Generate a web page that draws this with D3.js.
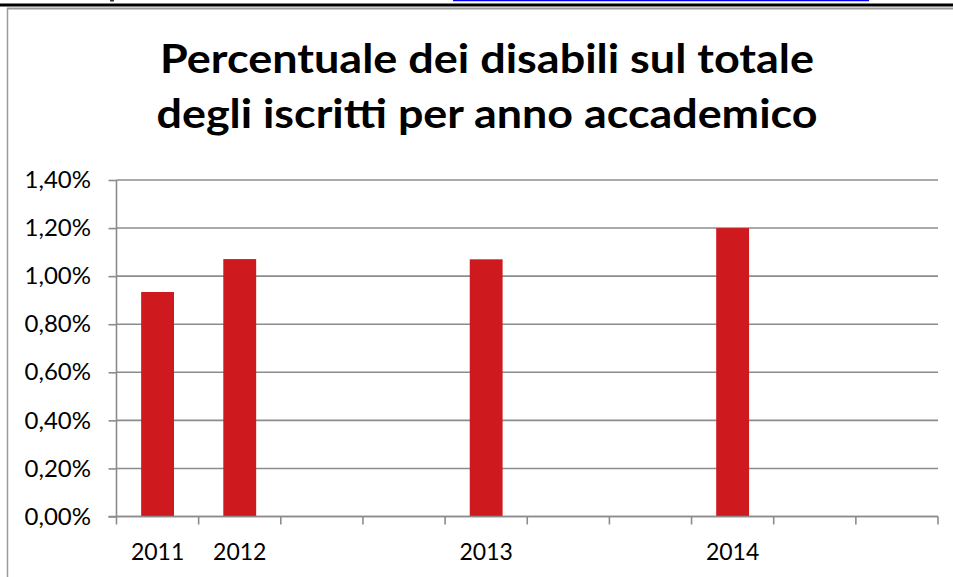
<!DOCTYPE html>
<html><head><meta charset="utf-8">
<script src="https://cdn.jsdelivr.net/npm/d3@7"></script>
<style>body{margin:0;background:#fff}svg{display:block}</style>
</head><body><svg id="c" width="953" height="577"></svg>
<script>
const titleLines = ["Percentuale dei disabili sul totale", "degli iscritti per anno accademico"];
const categories = ["2011", "2012", "", "", "2013", "", "", "2014", "", ""];
const values = [0.00934, 0.01071, null, null, 0.01070, null, null, 0.01200, null, null];
const yTicks = [0, 0.002, 0.004, 0.006, 0.008, 0.010, 0.012, 0.014];

const svg = d3.select("#c");
const W = 953, H = 577;
const plot = {left: 116.5, right: 938, top: 180, bottom: 516.5};
const gridColor = "#8c8c8c";
const barColor = "#ce191f";
const font = "Lato, 'Open Sans', sans-serif";

const itLocale = d3.formatLocale({decimal: ",", thousands: ".", grouping: [3], currency: ["€", ""], percent: "%"});
const fmt = itLocale.format(".2%");

svg.append("rect").attr("width", W).attr("height", H).attr("fill", "#fff");

// page frame decorations
svg.append("line").attr("x1", 453).attr("x2", 869).attr("y1", 0.5).attr("y2", 0.5)
  .attr("stroke", "#0000ee").attr("stroke-width", 1.5);
svg.append("rect").attr("x", 110).attr("y", 0).attr("width", 4).attr("height", 1.5).attr("fill", "#333");
svg.append("rect").attr("x", 0).attr("y", 3.5).attr("width", W).attr("height", 3).attr("fill", "#000");
svg.append("line").attr("x1", 7).attr("x2", W).attr("y1", 8.5).attr("y2", 8.5)
  .attr("stroke", "#9a9a9a").attr("stroke-width", 2);
svg.append("line").attr("x1", 7.5).attr("x2", 7.5).attr("y1", 8).attr("y2", H)
  .attr("stroke", "#9a9a9a").attr("stroke-width", 1.5);

// title
const title = svg.append("g");
const tLens = [654, 661];
const tBase = [73, 128];
titleLines.forEach((t, i) => {
  title.append("text").attr("x", 487).attr("y", tBase[i])
    .attr("text-anchor", "middle")
    .attr("font-family", font).attr("font-weight", 700).attr("font-size", 40)
    .attr("textLength", tLens[i]).attr("lengthAdjust", "spacingAndGlyphs")
    .attr("fill", "#000").text(t);
});

// scales
const x = d3.scaleBand().domain(d3.range(categories.length)).range([plot.left, plot.right]).padding(0);
const y = d3.scaleLinear().domain([0, 0.014]).range([plot.bottom, plot.top]);

// gridlines
svg.append("g").selectAll("line").data(yTicks).join("line")
  .attr("x1", plot.left).attr("x2", plot.right)
  .attr("y1", d => y(d)).attr("y2", d => y(d))
  .attr("stroke", gridColor).attr("stroke-width", 1.6);

// bars
const barFrac = 0.4;
svg.append("g").selectAll("rect")
  .data(values.map((v, i) => ({i, v})).filter(d => d.v != null))
  .join("rect")
  .attr("x", d => x(d.i) + x.bandwidth() * (1 - barFrac) / 2)
  .attr("width", x.bandwidth() * barFrac)
  .attr("y", d => y(d.v))
  .attr("height", d => y(0) - y(d.v))
  .attr("fill", barColor);

// y axis
const yAxis = svg.append("g").attr("transform", `translate(${plot.left},0)`)
  .call(d3.axisLeft(y).tickValues(yTicks).tickFormat(fmt).tickSize(8).tickPadding(17.5));
yAxis.select(".domain").attr("stroke", gridColor).attr("stroke-width", 1.6).attr("d", `M0,${plot.top}V${plot.bottom}`);
yAxis.selectAll(".tick line").attr("stroke", gridColor).attr("stroke-width", 1.6);
yAxis.selectAll("text").attr("font-family", font).attr("font-size", 24).attr("fill", "#000");

// x axis: boundary ticks
const bounds = d3.range(categories.length + 1).map(i => i < categories.length ? x(i) : x(i - 1) + x.bandwidth());
svg.append("g").selectAll("line").data(bounds).join("line")
  .attr("x1", d => d).attr("x2", d => d)
  .attr("y1", plot.bottom).attr("y2", plot.bottom + 8)
  .attr("stroke", gridColor).attr("stroke-width", 1.6);
const xAxis = svg.append("g").attr("transform", `translate(0,${plot.bottom})`)
  .call(d3.axisBottom(x).tickFormat(i => categories[i]).tickSize(0).tickPadding(27.5));
xAxis.select(".domain").attr("stroke", gridColor).attr("stroke-width", 1.6).attr("d", `M${plot.left - 8},0H${plot.right}`);
xAxis.selectAll("text").attr("font-family", font).attr("font-size", 23).attr("fill", "#000");
</script>
</body></html>
